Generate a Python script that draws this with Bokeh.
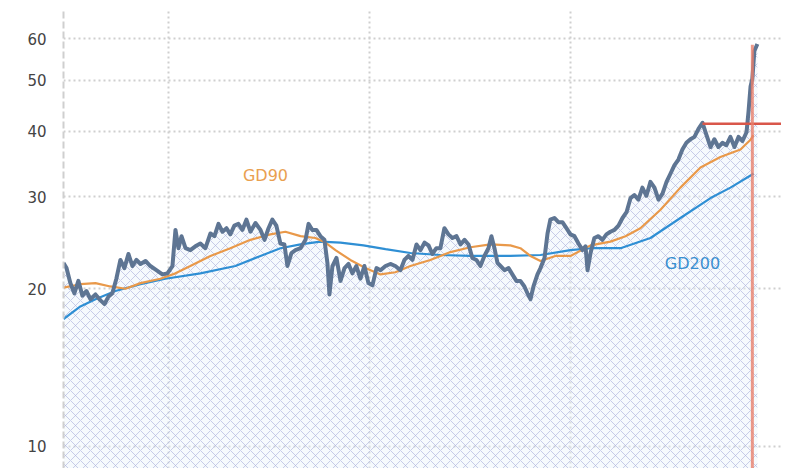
from bokeh.plotting import figure
from bokeh.models import Range1d, FixedTicker, NumeralTickFormatter
from bokeh.core.properties import value
from bokeh.embed import file_html
from bokeh.resources import INLINE

# ---- data (time in fractional years, price on log scale) ----
price_t = [2020.478, 2020.493, 2020.512, 2020.532, 2020.552, 2020.572, 2020.592, 2020.612, 2020.637, 2020.662,
           2020.682, 2020.701, 2020.721, 2020.741, 2020.761, 2020.781, 2020.801, 2020.821, 2020.841, 2020.861,
           2020.886, 2020.910, 2020.940, 2020.970, 2020.995, 2021.020, 2021.035, 2021.050, 2021.065, 2021.085,
           2021.109, 2021.134, 2021.159, 2021.184, 2021.209, 2021.229, 2021.249, 2021.269, 2021.289, 2021.308,
           2021.328, 2021.348, 2021.368, 2021.388, 2021.408, 2021.433, 2021.458, 2021.478, 2021.498, 2021.517,
           2021.537, 2021.557, 2021.577, 2021.592, 2021.612, 2021.632, 2021.657, 2021.682, 2021.697, 2021.716,
           2021.736, 2021.756, 2021.776, 2021.791, 2021.801, 2021.816, 2021.836, 2021.856, 2021.876, 2021.896,
           2021.915, 2021.935, 2021.955, 2021.975, 2021.995, 2022.015, 2022.035, 2022.055, 2022.080, 2022.104,
           2022.129, 2022.154, 2022.174, 2022.194, 2022.214, 2022.234, 2022.254, 2022.274, 2022.294, 2022.313,
           2022.333, 2022.353, 2022.373, 2022.393, 2022.413, 2022.433, 2022.453, 2022.473, 2022.493, 2022.512,
           2022.532, 2022.552, 2022.572, 2022.592, 2022.607, 2022.622, 2022.637, 2022.652, 2022.672, 2022.692,
           2022.711, 2022.731, 2022.751, 2022.771, 2022.786, 2022.801, 2022.816, 2022.836, 2022.851, 2022.871,
           2022.886, 2022.900, 2022.920, 2022.940, 2022.960, 2022.980, 2023.000, 2023.020, 2023.040, 2023.060,
           2023.075, 2023.085, 2023.100, 2023.119, 2023.139, 2023.159, 2023.179, 2023.199, 2023.219, 2023.239,
           2023.259, 2023.279, 2023.299, 2023.318, 2023.338, 2023.358, 2023.378, 2023.398, 2023.418, 2023.438,
           2023.458, 2023.478, 2023.498, 2023.517, 2023.537, 2023.557, 2023.577, 2023.597, 2023.617, 2023.637,
           2023.657, 2023.677, 2023.697, 2023.716, 2023.736, 2023.756, 2023.776, 2023.796, 2023.816, 2023.836,
           2023.856, 2023.876, 2023.886, 2023.896, 2023.905, 2023.915, 2023.930]
price_v = [22.4, 21.9, 20.5, 19.6, 20.7, 19.4, 19.8, 19.1, 19.5, 19.0,
           18.7, 19.3, 19.6, 20.9, 22.7, 21.9, 23.3, 22.1, 22.7, 22.3,
           22.6, 22.1, 21.7, 21.3, 21.4, 22.1, 25.9, 23.9, 25.2, 23.9,
           23.7, 24.1, 24.4, 23.9, 25.5, 25.2, 26.6, 25.7, 26.1, 25.4,
           26.4, 26.6, 25.9, 27.1, 25.7, 26.7, 25.9, 24.8, 26.1, 27.1,
           26.4, 24.4, 24.3, 22.1, 23.4, 23.7, 23.9, 24.8, 26.6, 25.9,
           25.9, 25.2, 24.8, 22.4, 19.5, 22.1, 22.9, 20.7, 21.9, 22.3,
           21.4, 22.1, 20.9, 22.1, 20.5, 20.3, 21.9, 21.7, 22.1, 22.3,
           22.1, 21.7, 22.7, 23.1, 22.7, 24.3, 23.7, 24.5, 24.2, 23.3,
           23.9, 23.9, 26.1, 25.4, 25.0, 25.2, 24.3, 24.8, 24.3, 22.9,
           22.7, 22.1, 23.1, 23.9, 25.2, 23.9, 22.4, 22.1, 21.7, 21.9,
           21.3, 20.7, 20.7, 20.2, 19.6, 19.1, 20.2, 21.3, 21.9, 22.9,
           25.5, 27.1, 27.3, 26.8, 26.8, 26.1, 25.4, 25.2, 24.4, 23.7,
           24.1, 21.7, 23.4, 25.0, 25.2, 24.8, 25.4, 25.7, 25.9, 26.4,
           27.3, 28.0, 29.8, 30.2, 29.6, 31.2, 30.1, 32.0, 31.2, 29.6,
           30.4, 32.0, 33.2, 34.4, 35.3, 36.9, 38.0, 38.6, 39.0, 40.4,
           41.5, 39.3, 37.3, 38.6, 37.3, 38.0, 37.6, 39.0, 37.3, 39.0,
           38.3, 39.8, 43.6, 48.7, 50.4, 56.9, 58.7]

gd90_t = [2020.478, 2020.562, 2020.637, 2020.711, 2020.786, 2020.861, 2020.960, 2021.035, 2021.109, 2021.209,
          2021.308, 2021.408, 2021.507, 2021.582, 2021.657, 2021.731, 2021.781, 2021.831, 2021.905, 2021.980,
          2022.055, 2022.129, 2022.204, 2022.303, 2022.403, 2022.502, 2022.602, 2022.701, 2022.751, 2022.801,
          2022.851, 2022.925, 2023.000, 2023.100, 2023.199, 2023.274, 2023.348, 2023.448, 2023.547, 2023.647,
          2023.746, 2023.846, 2023.896, 2023.910]
gd90_v = [20.1, 20.4, 20.5, 20.2, 20.0, 20.5, 20.9, 21.4, 22.1, 23.1,
          23.9, 24.8, 25.4, 25.7, 25.2, 25.0, 24.5, 23.7, 22.7, 21.9,
          21.3, 21.5, 22.1, 22.7, 23.5, 24.0, 24.3, 24.2, 23.9, 23.1,
          22.6, 23.1, 23.1, 24.2, 24.6, 25.2, 26.1, 28.3, 31.2, 34.1,
          35.7, 36.9, 38.5, 39.3]

gd200_t = [2020.478, 2020.562, 2020.637, 2020.736, 2020.861, 2020.985, 2021.159, 2021.333, 2021.458, 2021.557,
           2021.657, 2021.756, 2021.856, 2021.970, 2022.080, 2022.204, 2022.353, 2022.502, 2022.701, 2022.851,
           2023.000, 2023.100, 2023.249, 2023.398, 2023.547, 2023.697, 2023.796, 2023.896, 2023.910]
gd200_v = [17.5, 18.5, 19.1, 19.8, 20.4, 20.9, 21.4, 22.1, 23.1, 23.9,
           24.3, 24.6, 24.5, 24.2, 23.8, 23.4, 23.2, 23.1, 23.1, 23.2,
           23.7, 23.9, 23.9, 25.0, 27.3, 29.8, 31.2, 32.9, 33.2]

y_ticks = [10, 20, 30, 40, 50, 60]
year_ticks = [2021, 2022, 2023]
prev_high_t = 2023.657
prev_high_v = 41.3
marker_t = 2023.905
marker_top = 58.5
label_gd90 = ("GD90", 2021.483, 32.9)
label_gd200 = ("GD200", 2023.607, 22.3)

x_lo, x_hi = 2020.478, 2024.050
y_lo, y_hi = 9.07, 68.6

p = figure(frame_width=718, frame_height=460, y_axis_type="log",
           x_range=Range1d(x_lo, x_hi), y_range=Range1d(y_lo, y_hi),
           output_backend="svg", toolbar_location=None,
           min_border_left=63, min_border_right=0, min_border_top=8, min_border_bottom=0)
p.outline_line_color = None
p.background_fill_color = "white"
p.border_fill_color = "white"

# axes / grid
p.xaxis.visible = False
p.xgrid.ticker = FixedTicker(ticks=year_ticks)
p.xgrid.grid_line_color = "#cfcfcf"
p.xgrid.grid_line_width = 2
p.xgrid.grid_line_dash = "2 3"

p.yaxis.ticker = FixedTicker(ticks=y_ticks)
p.ygrid.ticker = FixedTicker(ticks=y_ticks)
p.yaxis.formatter = NumeralTickFormatter(format="0")
p.ygrid.grid_line_color = "#cfcfcf"
p.ygrid.grid_line_width = 2
p.ygrid.grid_line_dash = "2 3"
p.yaxis.axis_line_color = "#cfcfcf"
p.yaxis.axis_line_width = 2
p.yaxis.axis_line_dash = "7 3"
p.yaxis.major_tick_line_color = None
p.yaxis.minor_tick_line_color = None
p.yaxis.major_label_standoff = 11
p.yaxis.major_label_text_font = "DejaVu Sans"
p.yaxis.major_label_text_font_size = "15px"
p.yaxis.major_label_text_color = "#444444"

# hatched area under price
p.varea(x=price_t, y1=[y_lo * 0.9] * len(price_t), y2=price_v,
        fill_color="#e8f3fb", fill_alpha=0.4,
        hatch_pattern="diagonal_cross", hatch_color="#a9aedb", hatch_scale=10,
        hatch_weight=1, hatch_alpha=0.6)

# moving averages
p.line(gd200_t, gd200_v, line_color="#2f8fd4", line_width=2.2)
p.line(gd90_t, gd90_v, line_color="#e9994a", line_width=2.2)

# price
p.line(price_t, price_v, line_color="#5e7593", line_width=4, line_join="round")

# red markers
p.segment(x0=[prev_high_t], y0=[prev_high_v], x1=[x_hi], y1=[prev_high_v],
          line_color="#d9574a", line_width=2.5)
p.segment(x0=[marker_t], y0=[y_lo * 0.9], x1=[marker_t], y1=[marker_top],
          line_color="#e8806c", line_width=3, line_alpha=0.8)

# labels
p.text(x=[label_gd90[1]], y=[label_gd90[2]], text=[label_gd90[0]],
       text_font=value("DejaVu Sans"), text_font_size="16px", text_color="#e9a050",
       text_align="center", text_baseline="middle")
p.text(x=[label_gd200[1]], y=[label_gd200[2]], text=[label_gd200[0]],
       text_font=value("DejaVu Sans"), text_font_size="16px", text_color="#3a8fd0",
       text_align="center", text_baseline="middle")

open("out.html", "w").write(file_html(p, INLINE))
